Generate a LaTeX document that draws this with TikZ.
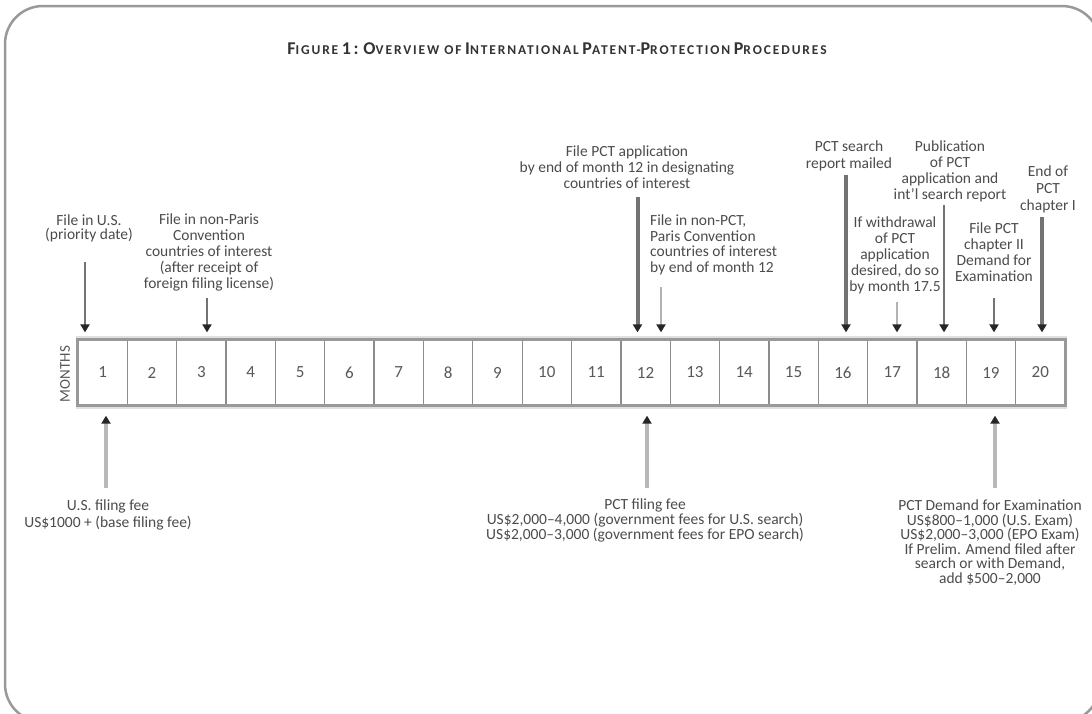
\documentclass[tikz,border=0pt]{standalone}
\usepackage{fontspec}
\setmainfont{Carlito}
\newfontfamily\titlefont[LetterSpace=14]{Carlito}
\usetikzlibrary{arrows.meta}
\newcommand\tcap[2]{{\fontsize{18}{18}\selectfont #1}{\fontsize{13.5}{13.5}\selectfont #2}}
\begin{document}
\begin{tikzpicture}[x=1pt,y=-1pt,
  lbl/.style={align=center, inner sep=0pt, anchor=north, text=black!70, font=\fontsize{15.5}{16}\selectfont},
  lblL/.style={align=left, inner sep=0pt, anchor=north west, text=black!70, font=\fontsize{15.5}{15.5}\selectfont},
  cell/.style={draw=black!45, line width=1.3pt, fill=white, minimum width=49.35pt, minimum height=65pt, inner sep=0pt, text=black!65, font=\fontsize{17}{17}\selectfont},
  tip/.style={-{Triangle[width=9pt,length=8pt,color=black!85]}},
  arrT/.style={tip, draw=black!55, line width=4pt, shorten >=7pt},
  arrM/.style={tip, draw=black!55, line width=2.6pt, shorten >=7pt},
  arrL/.style={tip, draw=black!30, line width=2pt, shorten >=7pt},
  arrB/.style={tip, draw=black!28, line width=4pt, shorten >=10pt},
  frame/.style={draw=black!40, line width=2.5pt, rounded corners=38pt}
]
\clip (0,0) rectangle (1092,713);
\fill[white] (0,0) rectangle (1092,713);
\draw[frame] (5,6) rectangle (1100,722);

% title
\node[text=black!80, font=\titlefont\bfseries, inner sep=0pt] (title) at (557,49)
  {\tcap{F}{IGURE} \tcap{1:}{} \tcap{O}{VERVIEW OF} \tcap{I}{NTERNATIONAL} \tcap{P}{ATENT-}\tcap{P}{ROTECTION} \tcap{P}{ROCEDURES}};

% month row
\fill[black!12] (76,336) rectangle (1067,409);
\foreach \i in {1,...,20} {
  \node[cell] (m\i) at ({78+49.35*(\i-0.5)},372.5) {\i};
}
\draw[draw=black!40, line width=2.5pt] (m1.north west) rectangle (m20.south east);
\node[rotate=90, text=black!65, inner sep=0pt, font=\fontsize{15}{15}\selectfont] (months) at (65,374) {MONTHS};

% top labels
\node[lbl, font=\fontsize{15.5}{14}\selectfont] (l1) at (89,215) {File in U.S.\\(priority date)};
\node[lbl] (l3) at (209,214) {File in non-Paris\\Convention\\countries of interest\\(after receipt of\\foreign filing license)};
\node[lbl] (l12a) at (627,146) {File PCT application\\by end of month 12 in designating\\countries of interest};
\node[lblL] (l12b) at (650,215) {File in non-PCT,\\Paris Convention\\countries of interest\\by end of month 12};
\node[lbl, font=\fontsize{15.5}{17}\selectfont] (l16) at (849,141) {PCT search\\report mailed};
\node[lbl] (l17) at (895,217) {If withdrawal\\of PCT\\application\\desired, do so\\by month 17.5};
\node[lbl] (l18) at (950,141) {Publication\\of PCT\\application and\\int'l search report};
\node[lbl] (l19) at (994,223) {File PCT\\chapter II\\Demand for\\Examination};
\node[lbl, font=\fontsize{15.5}{17}\selectfont] (l20) at (1048,166) {End of\\PCT\\chapter I};

% bottom labels
\node[lbl, font=\fontsize{15.5}{17}\selectfont] (b1) at (108,500) {U.S. filing fee\\US\$1000 + (base filing fee)};
\node[lbl, font=\fontsize{15.5}{15}\selectfont] (b12) at (645,499) {PCT filing fee\\US\$2,000–4,000 (government fees for U.S. search)\\US\$2,000–3,000 (government fees for EPO search)};
\node[lbl, font=\fontsize{15.5}{14.5}\selectfont] (b19) at (990,500) {PCT Demand for Examination\\US\$800–1,000 (U.S. Exam)\\US\$2,000–3,000 (EPO Exam)\\If Prelim. Amend filed after\\search or with Demand,\\add \$500–2,000};

% arrow free ends
\coordinate (s1) at (85,262);
\coordinate (s3) at (207,298);
\coordinate (s12a) at (637.5,197);
\coordinate (s12b) at (661,287);
\coordinate (s16) at (846,175);
\coordinate (s17) at (897,302);
\coordinate (s18) at (944,205);
\coordinate (s19) at (994,298);
\coordinate (s20) at (1042,217);
\coordinate (e1) at (106,488);
\coordinate (e12) at (647,488);
\coordinate (e19) at (995,488);

% top arrows
\draw[arrM] (s1) -- (s1 |- m1.north);
\draw[arrM] (s3) -- (s3 |- m3.north);
\draw[arrT] (s12a) -- (s12a |- m12.north);
\draw[arrL] (s12b) -- (s12b |- m12.north);
\draw[arrT] (s16) -- (s16 |- m16.north);
\draw[arrL] (s17) -- (s17 |- m17.north);
\draw[arrM] (s18) -- (s18 |- m18.north);
\draw[arrM] (s19) -- (s19 |- m19.north);
\draw[arrT] (s20) -- (s20 |- m20.north);

% bottom arrows
\draw[arrB] (e1) -- (e1 |- m1.south);
\draw[arrB] (e12) -- (e12 |- m12.south);
\draw[arrB] (e19) -- (e19 |- m19.south);
\end{tikzpicture}
\end{document}
